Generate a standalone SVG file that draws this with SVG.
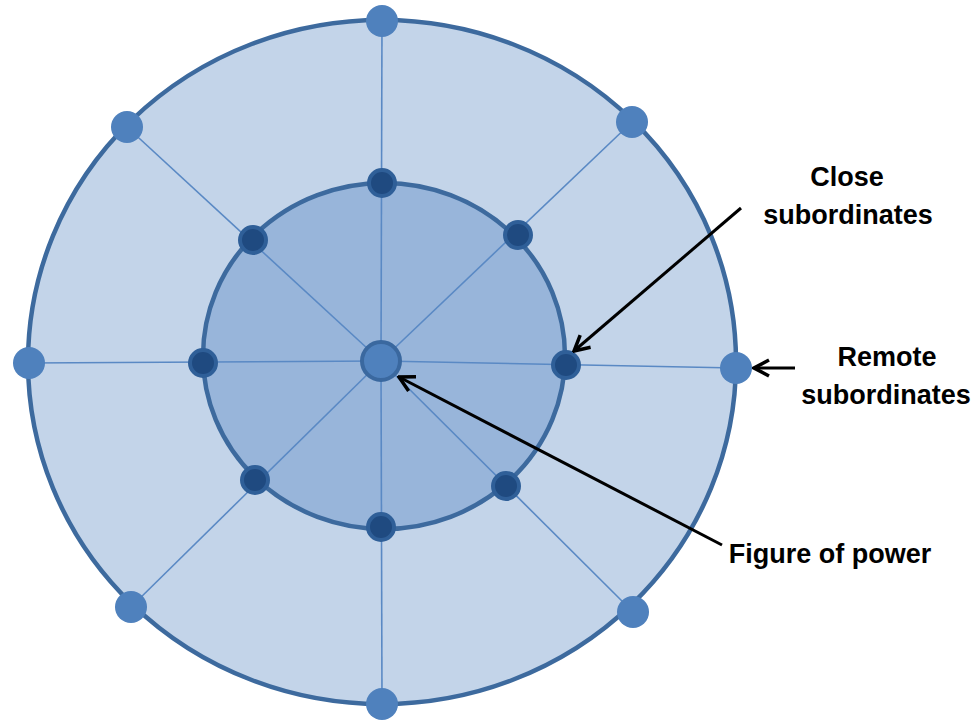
<svg xmlns="http://www.w3.org/2000/svg" width="978" height="725" viewBox="0 0 978 725">
<defs>
<style>
.ring{stroke:#3d6a9e;stroke-width:4.5}
.outer{fill:#c3d4e9}
.inner{fill:#98b5da}
.spoke{stroke:#5a89c4;stroke-width:1.6}
.odot{fill:#4f81bd}
.idot{fill:#1f4a80;stroke:#2f5f98;stroke-width:4}
.cdot{fill:#4f81bd;stroke:#3a689f;stroke-width:4}
.arr{stroke:#000;stroke-width:3;fill:none;marker-end:url(#ah)}
.lbl{font-family:"Liberation Sans",Arial,sans-serif;font-weight:bold;font-size:27px;fill:#000;text-anchor:middle}
</style>
<marker id="ah" viewBox="0 0 20 20" refX="18" refY="10" markerWidth="20" markerHeight="20" markerUnits="userSpaceOnUse" orient="auto">
<path d="M3,2 L18,10 L3,18" fill="none" stroke="#000" stroke-width="3.5" stroke-linejoin="miter"/>
</marker>
</defs>
<g id="outer-ring">
<ellipse class="outer ring" cx="382" cy="362" rx="354" ry="342"/>
</g>
<g id="inner-ring">
<ellipse class="inner ring" cx="384" cy="356" rx="181" ry="173"/>
</g>
<g id="spokes">
<line class="spoke" x1="381" y1="361" x2="382" y2="20"/>
<line class="spoke" x1="381" y1="361" x2="382" y2="703"/>
<line class="spoke" x1="381" y1="361" x2="28" y2="363"/>
<line class="spoke" x1="381" y1="361" x2="736" y2="368"/>
<line class="spoke" x1="381" y1="361" x2="127" y2="127"/>
<line class="spoke" x1="381" y1="361" x2="632" y2="122"/>
<line class="spoke" x1="381" y1="361" x2="131" y2="607"/>
<line class="spoke" x1="381" y1="361" x2="633" y2="612"/>
</g>
<g id="remote-subordinates">
<circle class="odot" cx="382" cy="21" r="16"/>
<circle class="odot" cx="382" cy="704" r="16"/>
<circle class="odot" cx="29" cy="363" r="16"/>
<circle class="odot" cx="736" cy="368" r="16"/>
<circle class="odot" cx="127" cy="127" r="16"/>
<circle class="odot" cx="632" cy="122" r="16"/>
<circle class="odot" cx="131" cy="607" r="16"/>
<circle class="odot" cx="633" cy="612" r="16"/>
</g>
<g id="close-subordinates">
<circle class="idot" cx="382" cy="183" r="13"/>
<circle class="idot" cx="381" cy="527" r="13"/>
<circle class="idot" cx="203" cy="363" r="13"/>
<circle class="idot" cx="566" cy="365" r="13"/>
<circle class="idot" cx="253" cy="240" r="13"/>
<circle class="idot" cx="518" cy="235" r="13"/>
<circle class="idot" cx="255" cy="480" r="13"/>
<circle class="idot" cx="506" cy="486" r="13"/>
</g>
<g id="figure-of-power">
<circle class="cdot" cx="381" cy="361" r="19"/>
</g>
<g id="connectors">
<line class="arr" x1="741" y1="208" x2="574" y2="351"/>
<line class="arr" x1="795" y1="368" x2="754" y2="368"/>
<line class="arr" x1="722" y1="545" x2="399" y2="377"/>
</g>
<g id="labels">
<text class="lbl" x="847" y="186">Close</text>
<text class="lbl" x="848" y="224">subordinates</text>
<text class="lbl" x="887" y="366">Remote</text>
<text class="lbl" x="886" y="404">subordinates</text>
<text class="lbl" x="830" y="563">Figure of power</text>
</g>
</svg>
